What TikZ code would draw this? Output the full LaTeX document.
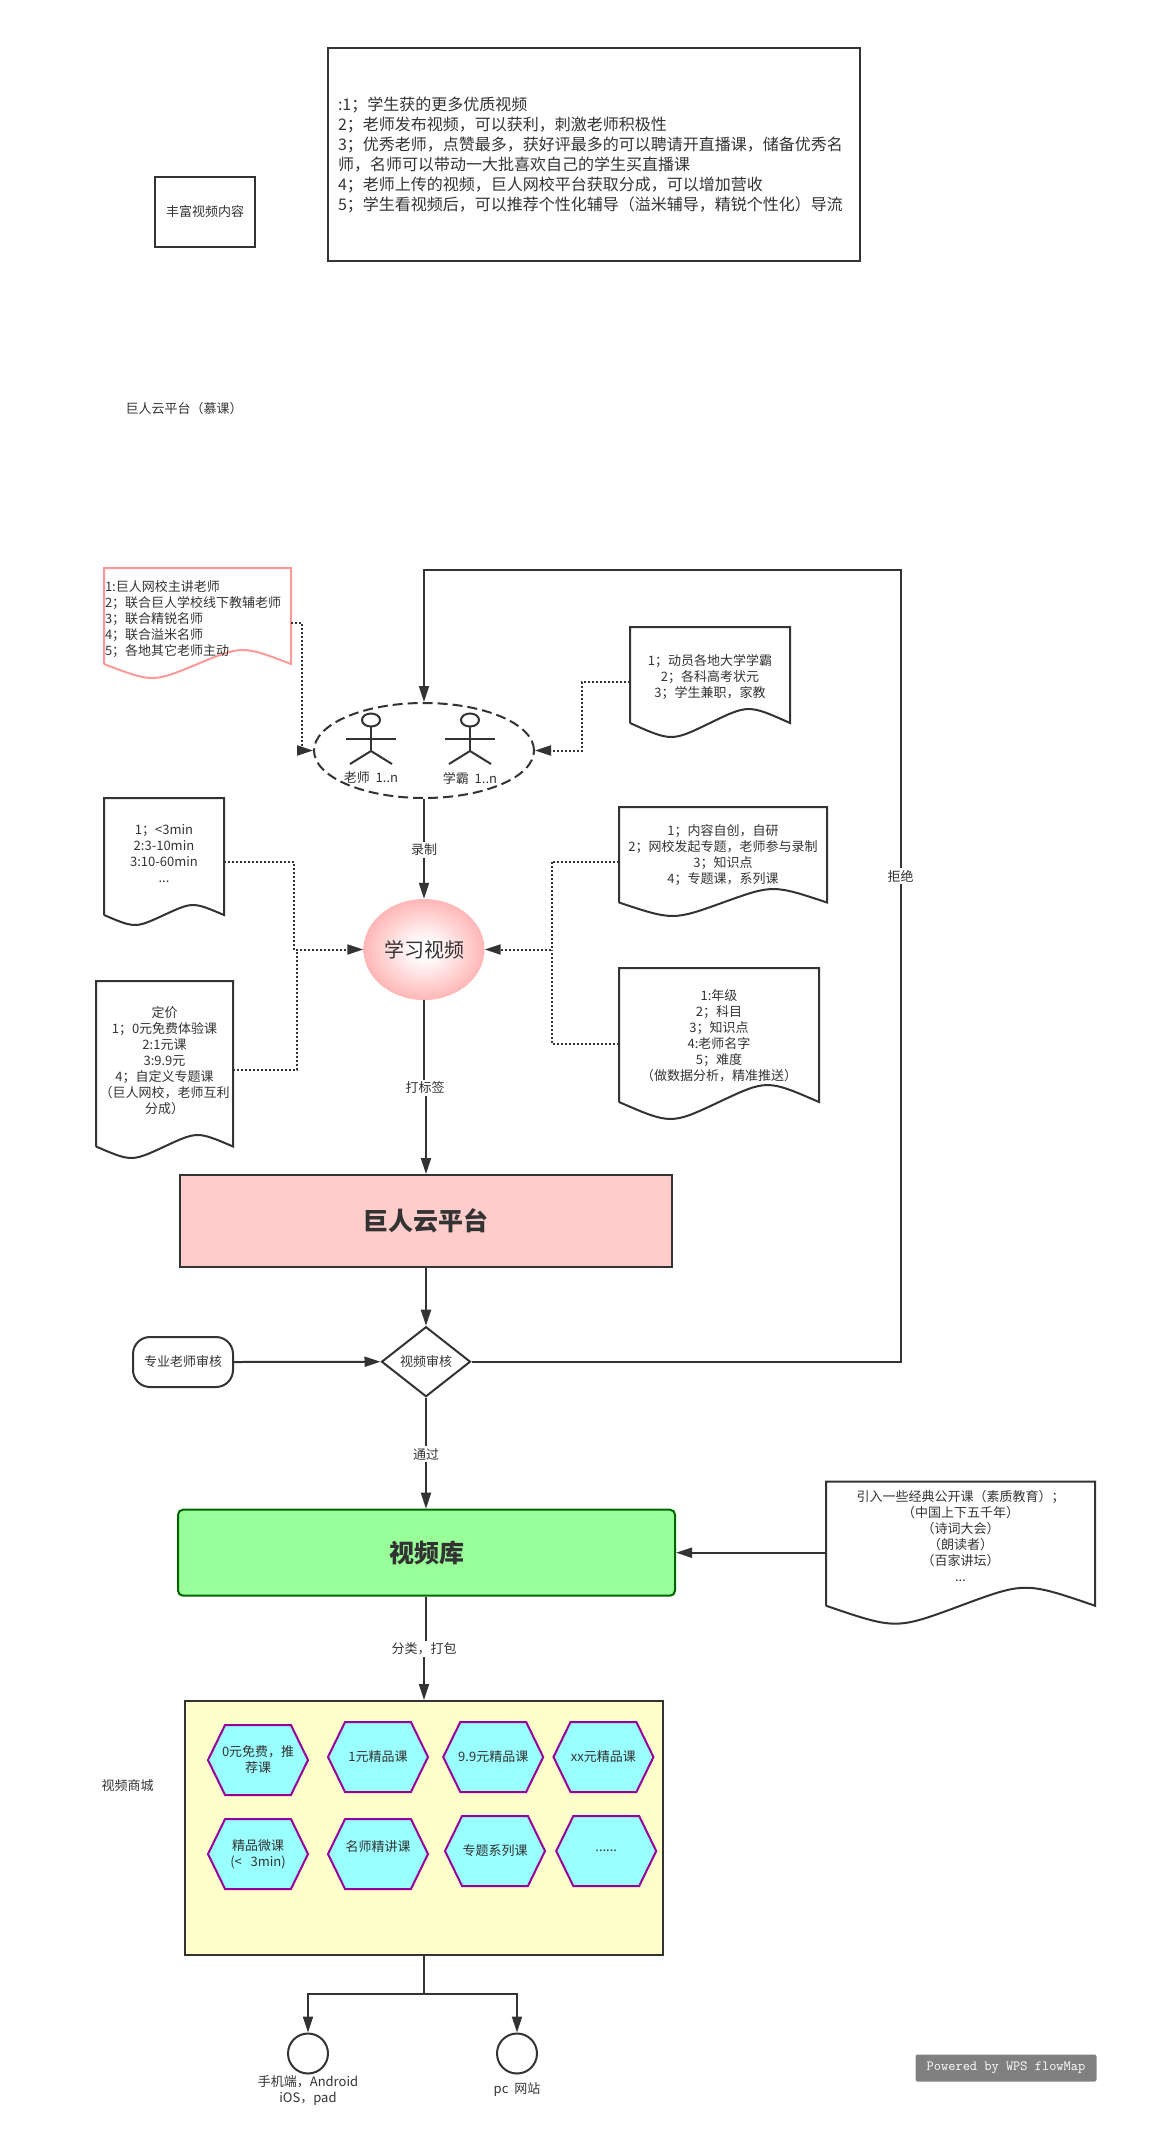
\documentclass[tikz,border=0pt]{standalone}
\usepackage{xcolor}
\usepackage{fontspec}
\setmainfont{Noto Sans CJK SC}
\usepackage{tikz}
\usetikzlibrary{shapes.geometric, shapes.symbols, arrows.meta, positioning, calc}
\definecolor{myink}{RGB}{51,51,51}
\definecolor{mypink}{RGB}{255,204,204}
\definecolor{myball}{RGB}{255,153,153}
\definecolor{mygreen}{RGB}{153,255,153}
\definecolor{myleaf}{RGB}{0,102,0}
\definecolor{mycream}{RGB}{255,255,204}
\definecolor{mycyan}{RGB}{153,255,255}
\definecolor{myviolet}{RGB}{153,0,153}
\definecolor{mybadge}{RGB}{128,128,128}
\pgfdeclareradialshading{ballshade}{\pgfpoint{0bp}{0bp}}{rgb(0bp)=(1,1,1); rgb(4bp)=(1,1,1); rgb(32bp)=(1,0.62,0.62); rgb(50bp)=(1,0.6,0.6)}
\newcommand{\fsize}[2]{\fontsize{#1}{#2}\selectfont}
\tikzset{
  txt/.style={inner sep=0pt, outer sep=0pt, align=center, text=myink, font=\fsize{13}{16}},
  edgelab/.style={txt, fill=white, inner xsep=1pt, inner ysep=2pt},
  docbox/.style={rectangle, inner sep=0pt, outer sep=0pt},
  plainbox/.style={rectangle, draw=myink, line width=2pt, inner sep=0pt, text=myink, align=center, font=\fsize{13}{16}},
  hexbox/.style={signal, signal to=east and west, signal pointer angle=128, draw=myviolet, fill=mycyan,
    line width=2pt, inner ysep=0pt, inner xsep=-3.8pt, minimum width=100pt, minimum height=70pt, text width=72pt,
    align=center, text=myink, font=\fsize{13}{16}},
  line/.style={line width=2pt, color=myink},
  arrow/.style={line, -{Triangle[length=16pt, width=10pt]}},
  dotline/.style={line, dash pattern=on 2pt off 2pt},
  dotarrow/.style={dotline, -{Triangle[length=16pt, width=10pt]}}
}
% outline of a document node: name, wave height, extra options
\newcommand{\docoutline}[3][myink]{%
  \coordinate (wl) at ($(#2.south west)+(0,-#3)$);
  \coordinate (wr) at ($(#2.south east)+(0,-#3)$);
  \draw[line, draw=#1] (wl) -- (#2.north west) -- (#2.north east) -- (wr)
    .. controls ($(wl)!.74!(wr)+(0,-1.33*#3)$) .. ($(wl)!.5!(wr)$)
    .. controls ($(wl)!.26!(wr)+(0,1.33*#3)$) .. (wl);
}
\begin{document}
\begin{tikzpicture}[x=1pt, y=-1pt]
  \useasboundingbox (0,0) rectangle (1157,2136);

  % Top boxes
  \node[plainbox, minimum width=100pt, minimum height=70pt] (rich) at (205,211.5) {丰富视频内容};
  \node[plainbox, minimum width=532pt, minimum height=213pt, text width=512pt, align=left, font=\fsize{16}{20}] (gain) at (594,154.5)
    {:1；学生获的更多优质视频\\
     2；老师发布视频，可以获利，刺激老师积极性\\
     3；优秀老师，点赞最多，获好评最多的可以聘请开直播课，储备优秀名\\
     师，名师可以带动一大批喜欢自己的学生买直播课\\
     4；老师上传的视频，巨人网校平台获取分成，可以增加营收\\
     5；学生看视频后，可以推荐个性化辅导（溢米辅导，精锐个性化）导流};
  \node[txt] (mooc) at (184,409) {巨人云平台（慕课）};

  % Teachers and students
  \node[ellipse, draw=myink, line width=2pt, dash pattern=on 10pt off 5pt, minimum width=220pt, minimum height=95pt, inner sep=0pt] (team) at (424,750.5) {};
  \foreach \ax/\alab in {371/老师~~1..n, 470/学霸~~1..n} {
    \draw[line] (\ax,720) ellipse (9 and 6.5);
    \draw[line] (\ax,726.5) -- (\ax,751) (\ax-25,738.5) -- (\ax+25,738.5);
    \draw[line] (\ax-21,764) -- (\ax,751) -- (\ax+21,764);
    \node[txt] (actor\ax) at (\ax,778) {\alab};
  }

  % Documents
  \node[docbox, minimum width=187pt, minimum height=110pt] (dteach) at (197.5,623) {};
  \docoutline[myball]{dteach}{14}
  \node[txt, align=left, below=12pt of dteach.north, text width=185pt] (tteach) {1:巨人网校主讲老师\\2；联合巨人学校线下教辅老师\\3；联合精锐名师\\4；联合溢米名师\\5；各地其它老师主动};

  \node[docbox, minimum width=160pt, minimum height=110pt] (dstud) at (710,682) {};
  \docoutline{dstud}{14}
  \node[txt, below=27pt of dstud.north] (tstud) {1；动员各地大学学霸\\2；各科高考状元\\3；学生兼职，家教};

  \node[docbox, minimum width=120pt, minimum height=127pt] (dlen) at (164,861.5) {};
  \docoutline{dlen}{10}
  \node[txt, below=26pt of dlen.north] (tlen) {1；<3min\\2:3-10min\\3:10-60min\\...};

  \node[docbox, minimum width=137pt, minimum height=177pt] (dprice) at (164.5,1069.5) {};
  \docoutline{dprice}{11.5}
  \node[txt, below=25pt of dprice.north, text width=133pt] (tprice) {定价\\1；0元免费体验课\\2:1元课\\3:9.9元\\4；自定义专题课\\（巨人网校，老师互利\\分成）};

  \node[docbox, minimum width=208pt, minimum height=109pt] (dsrc) at (723,861.5) {};
  \docoutline{dsrc}{13.5}
  \node[txt, below=17pt of dsrc.north] (tsrc) {1；内容自创，自研\\2；网校发起专题，老师参与录制\\3；知识点\\4；专题课，系列课};

  \node[docbox, minimum width=200pt, minimum height=151pt] (dtag) at (719,1043.5) {};
  \docoutline{dtag}{17}
  \node[txt, below=22pt of dtag.north] (ttag) {1:年级\\2；科目\\3；知识点\\4:老师名字\\5；难度\\（做数据分析，精准推送）};

  \node[docbox, minimum width=269pt, minimum height=142pt] (dopen) at (960.5,1552.7) {};
  \docoutline{dopen}{18}
  \node[txt, below=9pt of dopen.north] (topen) {引入一些经典公开课（素质教育）；\\（中国上下五千年）\\（诗词大会）\\（朗读者）\\（百家讲坛）\\...};

  % Main flow
  \node[ellipse, minimum width=121pt, minimum height=101pt, inner sep=0pt, shading=ballshade, text=myink, font=\fsize{20}{24}] (ball) at (424,949.5) {学习视频};
  \node[plainbox, fill=mypink, minimum width=492pt, minimum height=92pt, font=\fsize{25}{30}\bfseries] (cloud) at (426,1221) {巨人云平台};
  \node[diamond, draw=myink, line width=2pt, inner sep=0pt, minimum width=89pt, minimum height=70pt, text=myink, font=\fsize{13}{16}] (review) at (426,1361.7) {视频审核};
  \node[plainbox, rounded corners=17pt, minimum width=100pt, minimum height=50pt] (expert) at (183,1362) {专业老师审核};
  \node[plainbox, fill=mygreen, draw=myleaf, rounded corners=5pt, minimum width=497pt, minimum height=86pt, font=\fsize{25}{30}\bfseries] (lib) at (426.5,1552.7) {视频库};

  % Shop
  \node[plainbox, fill=mycream, minimum width=478pt, minimum height=254pt] (shop) at (424,1828) {};
  \node[txt] (shoplab) at (127.5,1786) {视频商城};
  \node[hexbox] (h1) at (258,1760) {0元免费，推\\荐课};
  \node[hexbox] (h2) at (378,1757) {1元精品课};
  \node[hexbox, right=13pt of h2] (h3) {9.9元精品课};
  \node[hexbox, right=8pt of h3] (h4) {xx元精品课};
  \node[hexbox] (h5) at (258,1854) {精品微课\\(<~~3min)};
  \node[hexbox] (h6) at (378,1854) {名师精讲课\\~};
  \node[hexbox] (h7) at (495,1851) {专题系列课};
  \node[hexbox, right=9pt of h7] (h8) {......};

  % Outlets
  \node[circle, draw=myink, line width=2pt, minimum size=40pt, inner sep=0pt] (phone) at (308,2053.5) {};
  \node[circle, draw=myink, line width=2pt, minimum size=40pt, inner sep=0pt] (web) at (517,2053.5) {};
  \node[txt, below=1pt of phone] (phonelab) {手机端，Android\\iOS，pad};
  \node[txt, below=8pt of web] (weblab) {pc~~网站};
  \coordinate (fork) at (424,1994);
  \node[rectangle, rounded corners=2pt, fill=mybadge, minimum width=181pt, minimum height=27pt, inner sep=0pt, text=white, font=\fsize{14}{16}\ttfamily] (badge) at (1006,2068) {Powered by WPS flowMap};

  % Dotted arrows
  \coordinate (jteach) at (302,750.5);
  \coordinate (jstud) at (582,750.5);
  \coordinate (jlen) at (294,949.5);
  \coordinate (jprice) at (297,949.5);
  \coordinate (jsrc) at (551.6,949.5);
  \draw[dotarrow] (dteach.east) -| (jteach) -- (team.west);
  \draw[dotarrow] (dstud.west) -| (jstud) -- (team.east);
  \draw[dotarrow] (dlen.east) -| (jlen) -- (ball.west);
  \draw[dotline] (dprice.east) -| (jprice);
  \draw[dotarrow] (dsrc.west) -| (jsrc) -- (ball.east);
  \draw[dotline] (dtag.west) -| (jsrc);

  % Arrows
  \coordinate (rejtop) at (900.6,570);
  \coordinate (tagend) at (424,1088);
  \coordinate (packend) at (424,1649);
  \draw[arrow] (review.east) -| (rejtop) -| (team.north);
  \draw[arrow] (team.south) -- (ball.north);
  \draw[line] (ball.south) -- (tagend);
  \draw[arrow] (tagend -| cloud.north) -- (cloud.north);
  \draw[arrow] (cloud.south) -- (review.north);
  \draw[arrow] (expert.east) -- (review.west);
  \draw[arrow] (review.south) -- (lib.north -| review.south);
  \draw[arrow] (dopen.west) -- (lib.east);
  \draw[line] (lib.south -| cloud.south) -- (packend -| cloud.south);
  \draw[arrow] (packend) -- (shop.north);
  \draw[line] (shop.south) -- (fork);
  \draw[arrow] (fork) -| (phone.north);
  \draw[arrow] (fork) -| (web.north);

  % Labels on arrows
  \node[edgelab] (lrej) at (900.6,876) {拒绝};
  \node[edgelab] (lrec) at (424,849.7) {录制};
  \node[edgelab] (ltag) at (425,1088) {打标签};
  \node[edgelab] (lpass) at (426,1454) {通过};
  \node[edgelab] (lpack) at (424,1649) {分类，打包};
\end{tikzpicture}
\end{document}
